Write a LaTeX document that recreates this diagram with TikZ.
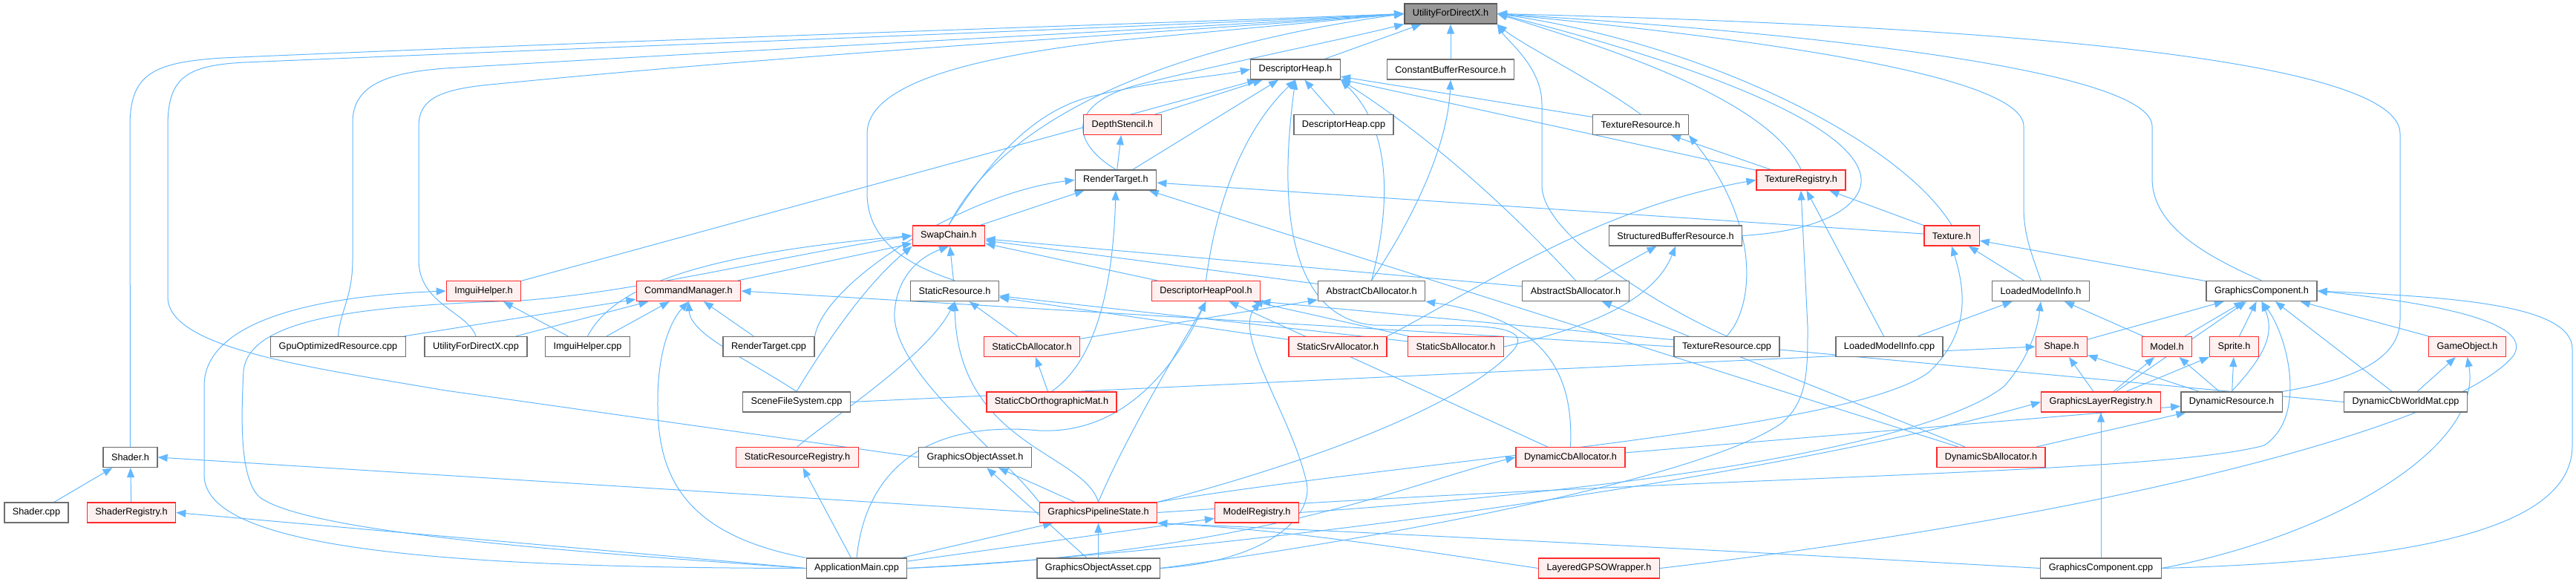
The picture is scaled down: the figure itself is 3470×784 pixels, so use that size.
\documentclass[tikz,border=0pt]{standalone}
\usepackage{fontspec}
\setmainfont{Liberation Sans}
\usetikzlibrary{arrows.meta,backgrounds}
\definecolor{edgeblue}{HTML}{63B8FF}
\definecolor{boxgray}{HTML}{6E6E6E}
\definecolor{rootfill}{HTML}{999999}
\definecolor{truncline}{HTML}{FF2A2A}
\definecolor{truncfill}{HTML}{FFF0F0}
\tikzset{
  file/.style={
    draw=boxgray, fill=white, line width=1.3pt,
    minimum height=27pt, inner xsep=11pt, inner ysep=0pt,
    font=\fontsize{12.7}{14}\selectfont
  },
  trunc/.style={file, draw=truncline, fill=truncfill},
  root/.style={file, draw=boxgray!80!black, fill=rootfill},
  dep/.style={
    draw=edgeblue, line width=1pt,
    -{Triangle[length=13pt,width=10pt]}
  }
}

\begin{document}
\begin{tikzpicture}[x=1pt, y=-1pt]
    \useasboundingbox (0,0) rectangle (3470,784);

    % ノード
    \node[root] (util) at (1954,18.5) {UtilityForDirectX.h};

    \node[file] (dheap) at (1745,93.5) {DescriptorHeap.h};
    \node[file] (cbres) at (1954,93.5) {ConstantBufferResource.h};

    \node[trunc] (depth) at (1512,168) {DepthStencil.h};
    \node[file] (dheapcpp) at (1810,168) {DescriptorHeap.cpp};
    \node[file] (texres) at (2210,168) {TextureResource.h};

    \node[file] (rtarget) at (1503,242.5) {RenderTarget.h};
    \node[trunc] (texreg) at (2426,242.5) {TextureRegistry.h};

    \node[trunc] (swap) at (1278,317.5) {SwapChain.h};
    \node[file] (sbres) at (2257,317.5) {StructuredBufferResource.h};
    \node[trunc] (texture) at (2629,317.5) {Texture.h};

    \node[trunc] (imguih) at (651.5,392) {ImguiHelper.h};
    \node[trunc] (cmdmgr) at (927.5,392) {CommandManager.h};
    \node[file] (statres) at (1286,392) {StaticResource.h};
    \node[trunc] (dhpool) at (1624.5,392) {DescriptorHeapPool.h};
    \node[file] (abscb) at (1847.5,392) {AbstractCbAllocator.h};
    \node[file] (abssb) at (2122.5,392) {AbstractSbAllocator.h};
    \node[file] (lmih) at (2749,392) {LoadedModelInfo.h};
    \node[file] (gcomph) at (3046.5,392) {GraphicsComponent.h};

    \node[file] (gpuopt) at (455.5,467) {GpuOptimizedResource.cpp};
    \node[file] (utilcpp) at (641,467) {UtilityForDirectX.cpp};
    \node[file] (imguicpp) at (791.5,467) {ImguiHelper.cpp};
    \node[file] (rtcpp) at (1035.5,467) {RenderTarget.cpp};
    \node[trunc] (stcb) at (1390,467) {StaticCbAllocator.h};
    \node[trunc] (stsrv) at (1802,467) {StaticSrvAllocator.h};
    \node[trunc] (stsb) at (1961,467) {StaticSbAllocator.h};
    \node[file] (texrescpp) at (2326,467) {TextureResource.cpp};
    \node[file] (lmicpp) at (2545,467) {LoadedModelInfo.cpp};
    \node[trunc] (shape) at (2777,467) {Shape.h};
    \node[trunc] (model) at (2919,467) {Model.h};
    \node[trunc] (sprite) at (3009.5,467) {Sprite.h};
    \node[trunc] (gameobj) at (3323.5,467) {GameObject.h};

    \node[file] (scenefs) at (1073,541.5) {SceneFileSystem.cpp};
    \node[trunc] (stcbortho) at (1416.5,541.5) {StaticCbOrthographicMat.h};
    \node[trunc] (glayer) at (2830,541.5) {GraphicsLayerRegistry.h};
    \node[file] (dynres) at (3006,541.5) {DynamicResource.h};
    \node[file] (dcbworld) at (3240.5,541.5) {DynamicCbWorldMat.cpp};

    \node[file] (shaderh) at (175.5,616) {Shader.h};
    \node[trunc] (stresreg) at (1074,616) {StaticResourceRegistry.h};
    \node[file] (goasset) at (1313.5,616) {GraphicsObjectAsset.h};
    \node[trunc] (dyncb) at (2115.5,616) {DynamicCbAllocator.h};
    \node[trunc] (dynsb) at (2682,616) {DynamicSbAllocator.h};

    \node[file] (shadercpp) at (49,690.5) {Shader.cpp};
    \node[trunc] (shreg) at (177,690.5) {ShaderRegistry.h};
    \node[trunc] (gpso) at (1479.5,690.5) {GraphicsPipelineState.h};
    \node[trunc] (modelreg) at (1693,690.5) {ModelRegistry.h};

    \node[file] (appmain) at (1154,765.5) {ApplicationMain.cpp};
    \node[file] (goassetcpp) at (1479.5,765.5) {GraphicsObjectAsset.cpp};
    \node[trunc] (lgpso) at (2154,765.5) {LayeredGPSOWrapper.h};
    \node[file] (gcompcpp) at (2830,765.5) {GraphicsComponent.cpp};

    \begin{pgfonlayer}{background}
    % UtilityForDirectX.h へ
    \draw[dep] (dheap) -- (util);
    \draw[dep] (cbres) -- (util);
    \draw[dep] (shaderh.north) -- (175,170) .. controls (175,100) and (205,84) .. (300,78) .. controls (900,52) and (1600,30) .. (util.west);
    \draw[dep] (goasset.west) -- (600,526) .. controls (420,495) and (226,470) .. (226,400) -- (226,170) .. controls (226,105) and (250,88) .. (330,84) .. controls (900,60) and (1600,34) .. (util.west);
    \draw[dep] (gpuopt.north) .. controls (458,420) and (475,400) .. (475,350) -- (475,165) .. controls (475,115) and (520,98) .. (600,92) .. controls (1100,62) and (1600,38) .. (util.west);
    \draw[dep] (utilcpp.north) .. controls (630,420) and (564,410) .. (564,350) -- (564,170) .. controls (564,135) and (590,122) .. (650,115) .. controls (1100,70) and (1600,42) .. (util.west);
    \draw[dep] (statres.north) .. controls (1200,350) and (1168,310) .. (1168,260) -- (1168,180) .. controls (1168,120) and (1280,80) .. (1500,55) -- (util.west);
    \draw[dep] (swap.north) .. controls (1320,220) and (1450,80) .. (util.west);
    \draw[dep] (rtarget.north) .. controls (1440,190) and (1440,140) .. (1530,115) .. controls (1650,85) and (1800,55) .. (util.south west);
    \draw[dep] (texres.north) .. controls (2150,110) and (2050,60) .. (util.south east);
    \draw[dep] (texreg.north) .. controls (2380,130) and (2150,60) .. (util.east);
    \draw[dep] (texture.north) .. controls (2560,190) and (2300,60) .. (util.east);
    \draw[dep] (sbres.east) .. controls (2470,310) and (2510,270) .. (2507,240) .. controls (2500,170) and (2300,90) .. (util.east);
    \draw[dep] (texrescpp.north) .. controls (2250,420) and (2077,320) .. (2077,250) -- (2077,140) .. controls (2077,90) and (2030,55) .. (util.south east);
    \draw[dep] (lmih.north) .. controls (2740,350) and (2726,320) .. (2726,280) -- (2726,170) .. controls (2726,110) and (2450,60) .. (util.east);
    \draw[dep] (gcomph.north) .. controls (2960,340) and (2899,300) .. (2899,240) -- (2899,170) .. controls (2899,110) and (2600,55) .. (util.east);
    \draw[dep] (dynres.north east) .. controls (3180,510) and (3233,480) .. (3233,430) -- (3233,180) .. controls (3233,80) and (2700,35) .. (util.east);

    % DescriptorHeap.h へ
    \draw[dep] (depth) -- (dheap);
    \draw[dep] (dheapcpp) -- (dheap);
    \draw[dep] (texres) -- (dheap);
    \draw[dep] (rtarget) -- (dheap);
    \draw[dep] (texreg) -- (dheap);
    \draw[dep] (imguih) -- (dheap);
    \draw[dep] (swap.north) .. controls (1330,220) and (1390,150) .. (1470,130) .. controls (1560,108) and (1630,104) .. (dheap.west);
    \draw[dep] (dhpool.north) .. controls (1640,260) and (1680,170) .. (dheap.south);
    \draw[dep] (abscb.north) .. controls (1870,290) and (1880,180) .. (dheap.south east);
    \draw[dep] (abssb.north) .. controls (2060,310) and (1950,200) .. (dheap.south east);
    \draw[dep] (gpso.north east) .. controls (1700,640) and (1960,560) .. (2040,470) .. controls (2070,430) and (1950,440) .. (1850,438) .. controls (1760,430) and (1715,330) .. (dheap.south);

    % ヘッダ間
    \draw[dep] (abscb.north) .. controls (1900,300) and (1950,200) .. (cbres.south);
    \draw[dep] (rtarget) -- (depth);
    \draw[dep] (texreg) -- (texres);
    \draw[dep] (texrescpp.north) .. controls (2365,410) and (2370,300) .. (texres.south east);
    \draw[dep] (swap) -- (rtarget);
    \draw[dep] (texture) -- (rtarget);
    \draw[dep] (stcbortho.north) .. controls (1485,480) and (1500,360) .. (rtarget.south);
    \draw[dep] (rtcpp.north east) .. controls (1110,380) and (1300,260) .. (rtarget.west);
    \draw[dep] (dynsb) -- (rtarget);
    \draw[dep] (texture) -- (texreg);
    \draw[dep] (lmicpp) -- (texreg);
    \draw[dep] (stsrv.north east) .. controls (1990,390) and (2150,280) .. (texreg.west);
    \draw[dep] (goassetcpp.east) .. controls (1900,720) and (2300,640) .. (2400,570) .. controls (2435,540) and (2435,500) .. (2435,440) -- (texreg.south);
    \draw[dep] (abssb) -- (sbres);
    \draw[dep] (stsb.east) .. controls (2150,440) and (2230,400) .. (sbres.south);
    \draw[dep] (lmih) -- (texture);
    \draw[dep] (gcomph) -- (texture);
    \draw[dep] (gpso.north east) .. controls (1900,620) and (2500,580) .. (2600,500) .. controls (2650,450) and (2650,400) .. (texture.south);

    % SwapChain.h へ
    \draw[dep] (cmdmgr) -- (swap);
    \draw[dep] (imguicpp.north) .. controls (820,400) and (900,345) .. (swap.west);
    \draw[dep] (scenefs.north) .. controls (1120,450) and (1170,380) .. (swap.south west);
    \draw[dep] (statres) -- (swap);
    \draw[dep] (dhpool) -- (swap);
    \draw[dep] (abscb) -- (swap);
    \draw[dep] (abssb) -- (swap);
    \draw[dep] (gpso.north west) .. controls (1350,610) and (1200,500) .. (1205,420) .. controls (1208,380) and (1230,350) .. (swap.south);
    \draw[dep] (appmain.west) .. controls (800,745) and (420,720) .. (350,670) .. controls (322,645) and (325,560) .. (328,500) .. controls (335,430) and (480,412) .. (700,405) .. controls (850,395) and (1050,345) .. (swap.west);

    % StaticResource.h へ
    \draw[dep] (stcb) -- (statres);
    \draw[dep] (stsrv) -- (statres);
    \draw[dep] (stsb) -- (statres);
    \draw[dep] (stresreg.north) .. controls (1110,570) and (1250,480) .. (statres.south);
    \draw[dep] (gpso.north) .. controls (1460,610) and (1290,600) .. (statres.south);

    % DescriptorHeapPool.h へ
    \draw[dep] (gpso.north) .. controls (1520,580) and (1600,450) .. (dhpool.south);
    \draw[dep] (appmain.north) .. controls (1165,640) and (1240,565) .. (1400,580) .. controls (1510,585) and (1580,500) .. (dhpool.south);
    \draw[dep] (dyncb) -- (dhpool);
    \draw[dep] (stsb) -- (dhpool);
    \draw[dep] (dcbworld.west) -- (dhpool.south east);
    \draw[dep] (goassetcpp.east) .. controls (1700,757) and (1770,700) .. (1760,650) .. controls (1740,560) and (1660,450) .. (dhpool.south east);

    % アロケータ
    \draw[dep] (stcb) -- (abscb);
    \draw[dep] (dyncb.north) .. controls (2120,500) and (2080,430) .. (abscb.south east);
    \draw[dep] (dynsb) -- (abssb);
    \draw[dep] (stcbortho) -- (stcb);

    % LoadedModelInfo.h へ
    \draw[dep] (lmicpp) -- (lmih);
    \draw[dep] (model) -- (lmih);
    \draw[dep] (modelreg.east) .. controls (2200,660) and (2600,600) .. (2700,520) .. controls (2735,480) and (2745,440) .. (lmih.south);

    % GraphicsComponent.h へ
    \draw[dep] (shape) -- (gcomph);
    \draw[dep] (model) -- (gcomph);
    \draw[dep] (sprite) -- (gcomph);
    \draw[dep] (gameobj) -- (gcomph);
    \draw[dep] (glayer) -- (gcomph);
    \draw[dep] (dynres.north) .. controls (3050,480) and (3065,450) .. (gcomph.south);
    \draw[dep] (dcbworld) -- (gcomph);
    \draw[dep] (lgpso.east) .. controls (2800,700) and (3300,580) .. (3385,480) .. controls (3420,430) and (3250,405) .. (gcomph.east);
    \draw[dep] (gcompcpp.east) .. controls (3300,755) and (3465,700) .. (3465,600) -- (3465,470) .. controls (3465,410) and (3300,400) .. (gcomph.east);
    \draw[dep] (gpso.east) .. controls (2300,640) and (2900,640) .. (3050,600) .. controls (3110,560) and (3080,450) .. (gcomph.south);

    % 図形・レイヤ
    \draw[dep] (glayer) -- (shape);
    \draw[dep] (dynres) -- (shape);
    \draw[dep] (scenefs.east) -- (shape.west);
    \draw[dep] (glayer) -- (model);
    \draw[dep] (dynres) -- (model);
    \draw[dep] (glayer) -- (sprite);
    \draw[dep] (dynres) -- (sprite);
    \draw[dep] (dcbworld) -- (gameobj);
    \draw[dep] (gcompcpp.east) .. controls (3150,720) and (3345,600) .. (gameobj.south);
    \draw[dep] (gcompcpp) -- (glayer);
    \draw[dep] (appmain.east) .. controls (1700,740) and (2400,640) .. (glayer.west);
    \draw[dep] (dyncb) -- (dynres);
    \draw[dep] (dynsb) -- (dynres);
    \draw[dep] (appmain.east) .. controls (1700,745) and (1900,650) .. (dyncb.west);

    % CommandManager.h へ
    \draw[dep] (gpuopt) -- (cmdmgr);
    \draw[dep] (utilcpp) -- (cmdmgr);
    \draw[dep] (imguicpp) -- (cmdmgr);
    \draw[dep] (rtcpp) -- (cmdmgr);
    \draw[dep] (scenefs.north) .. controls (1000,480) and (930,450) .. (cmdmgr.south);
    \draw[dep] (texrescpp.west) -- (cmdmgr.east);
    \draw[dep] (appmain.north west) .. controls (920,720) and (885,640) .. (886,540) .. controls (886,470) and (905,430) .. (cmdmgr.south);

    % ImguiHelper.h へ
    \draw[dep] (imguicpp) -- (imguih);
    \draw[dep] (appmain.west) .. controls (600,765) and (275,740) .. (275,640) -- (275,520) .. controls (275,440) and (400,400) .. (imguih.west);

    % Shader.h 他
    \draw[dep] (shadercpp) -- (shaderh);
    \draw[dep] (shreg) -- (shaderh);
    \draw[dep] (gpso.west) -- (shaderh.east);
    \draw[dep] (appmain.west) -- (shreg.east);
    \draw[dep] (appmain) -- (stresreg);
    \draw[dep] (appmain) -- (modelreg);

    % GraphicsPipelineState.h へ
    \draw[dep] (appmain) -- (gpso);
    \draw[dep] (goassetcpp) -- (gpso);
    \draw[dep] (lgpso.west) .. controls (1900,740) and (1750,715) .. (gpso.south east);
    \draw[dep] (gcompcpp.west) .. controls (2300,740) and (1800,715) .. (gpso.south east);
    \draw[dep] (gpso) -- (goasset);
    \draw[dep] (goassetcpp) -- (goasset);
    \end{pgfonlayer}
\end{tikzpicture}
\end{document}
